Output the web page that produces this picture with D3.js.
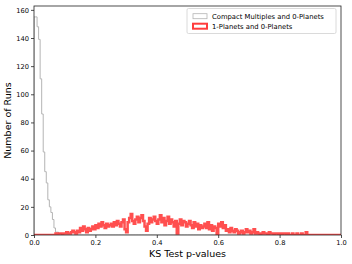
<!DOCTYPE html>
<html>
<head>
<meta charset="utf-8">
<script src="https://cdn.jsdelivr.net/npm/d3@7"></script>
<style>
  body { margin: 0; background: #fff; }
  svg { display: block; font-family: "DejaVu Sans", sans-serif; }
</style>
</head>
<body>
<svg width="352" height="264"></svg>
<script>
// histogram counts, bins of 0.005 over [0, 1]
var binWidth = 0.005;
var compactCounts = [155, 155, 148, 139, 111, 86, 59, 45, 37, 25,
  20, 16, 11, 5, 2, 2, 1, 1];
var onePlanetCounts = [
  0, 0, 0, 0, 0, 0, 0, 0, 0, 0,
  0, 0, 0, 0, 1, 0, 1, 1, 0, 1,
  1, 2, 1, 1, 2, 3, 2, 1, 3, 2,
  5, 3, 6, 4, 2, 5, 3, 4, 6, 4,
  7, 5, 8, 6, 9, 7, 5, 8, 6, 7,
  8, 6, 9, 7, 10, 8, 6, 9, 11, 4,
  2, 9, 12, 15, 10, 8, 11, 13, 9, 12,
  14, 10, 6, 3, 8, 12, 9, 11, 13, 10,
  8, 11, 14, 9, 12, 7, 10, 13, 8, 11,
  9, 6, 10, 1, 8, 11, 7, 10, 9, 6,
  8, 10, 7, 5, 9, 6, 8, 4, 7, 5,
  6, 8, 5, 9, 4, 7, 3, 6, 5, 0,
  8, 6, 9, 5, 7, 3, 4, 2, 5, 3,
  2, 4, 3, 1, 2, 3, 1, 2, 4, 2,
  3, 1, 2, 4, 1, 2, 1, 0, 1, 2,
  1, 1, 0, 2, 1, 1, 0, 1, 1, 0,
  1, 0, 1, 1, 0, 1, 0, 0, 1, 0,
  0, 1, 0, 0, 1, 0, 0, 2, 0, 0
];
var seriesNames = ["Compact Multiples and 0-Planets", "1-Planets and 0-Planets"];
var xTicks = [0, 0.2, 0.4, 0.6, 0.8, 1.0];
var yTicks = [0, 20, 40, 60, 80, 100, 120, 140, 160];

(function() {
  var svg = d3.select("svg");
  var margin = { left: 34, right: 341, top: 6, bottom: 235 };

  var x = d3.scaleLinear().domain([0, 1]).range([margin.left, margin.right]);
  var y = d3.scaleLinear().domain([0, 162.75]).range([margin.bottom, margin.top]);

  svg.append("defs").append("clipPath").attr("id", "clip")
    .append("rect")
    .attr("x", margin.left).attr("y", margin.top)
    .attr("width", margin.right - margin.left).attr("height", margin.bottom - margin.top);

  // step outline like matplotlib histtype='step', zeros out to x=1
  function stepPoints(counts) {
    var n = Math.round(1 / binWidth);
    var pts = [[0, 0]];
    for (var i = 0; i < n; i++) {
      var v = i < counts.length ? counts[i] : 0;
      pts.push([i * binWidth, v]);
      pts.push([(i + 1) * binWidth, v]);
    }
    pts.push([1, 0]);
    return pts;
  }

  var line = d3.line()
    .x(function(d) { return x(d[0]); })
    .y(function(d) { return y(d[1]); });

  var plot = svg.append("g").attr("clip-path", "url(#clip)");

  plot.append("path")
    .attr("d", line(stepPoints(compactCounts)))
    .attr("fill", "none")
    .attr("stroke", "#b4b4b4")
    .attr("stroke-width", 1);

  plot.append("path")
    .attr("d", line(stepPoints(onePlanetCounts)))
    .attr("fill", "none")
    .attr("stroke", "#ff3c3c")
    .attr("stroke-opacity", 0.9)
    .attr("stroke-width", 2.5);

  // axes
  var xAxis = svg.append("g")
    .attr("transform", "translate(0," + margin.bottom + ")")
    .call(d3.axisBottom(x).tickValues(xTicks).tickFormat(d3.format(".1f")).tickSize(3).tickPadding(2));
  var yAxis = svg.append("g")
    .attr("transform", "translate(" + margin.left + ",0)")
    .call(d3.axisLeft(y).tickValues(yTicks).tickSize(3).tickPadding(2));

  [xAxis, yAxis].forEach(function(a) {
    a.select(".domain").remove();
    a.selectAll("text").attr("font-size", 6.7).attr("fill", "#000")
      .attr("font-family", "DejaVu Sans, sans-serif");
    a.selectAll("line").attr("stroke", "#000").attr("stroke-width", 0.7);
  });

  svg.append("rect")
    .attr("x", margin.left).attr("y", margin.top)
    .attr("width", margin.right - margin.left).attr("height", margin.bottom - margin.top)
    .attr("fill", "none")
    .attr("stroke", "#222")
    .attr("stroke-width", 0.8);

  svg.append("text")
    .attr("x", (margin.left + margin.right) / 2).attr("y", 257)
    .attr("text-anchor", "middle")
    .attr("font-size", 9.5)
    .text("KS Test p-values");

  svg.append("text")
    .attr("transform", "translate(11," + ((margin.top + margin.bottom) / 2) + ") rotate(-90)")
    .attr("text-anchor", "middle")
    .attr("font-size", 9.5)
    .text("Number of Runs");

  // legend
  var legend = svg.append("g");
  legend.append("rect")
    .attr("x", 187).attr("y", 8.5)
    .attr("width", 149).attr("height", 25)
    .attr("rx", 1.5)
    .attr("fill", "#fff")
    .attr("stroke", "#d0d0d0")
    .attr("stroke-width", 0.8);

  var legendStyles = [
    { stroke: "#b4b4b4", width: 0.8 },
    { stroke: "#ff3c3c", width: 2 }
  ];
  seriesNames.forEach(function(name, i) {
    var cy = 16.2 + i * 10;
    legend.append("rect")
      .attr("x", 193).attr("y", cy - 2.5)
      .attr("width", 14).attr("height", 5)
      .attr("fill", "none")
      .attr("stroke", legendStyles[i].stroke)
      .attr("stroke-width", legendStyles[i].width);
    legend.append("text")
      .attr("x", 212).attr("y", cy)
      .attr("dy", "0.35em")
      .attr("font-size", 6.8)
      .text(name);
  });
})();
</script>
</body>
</html>
